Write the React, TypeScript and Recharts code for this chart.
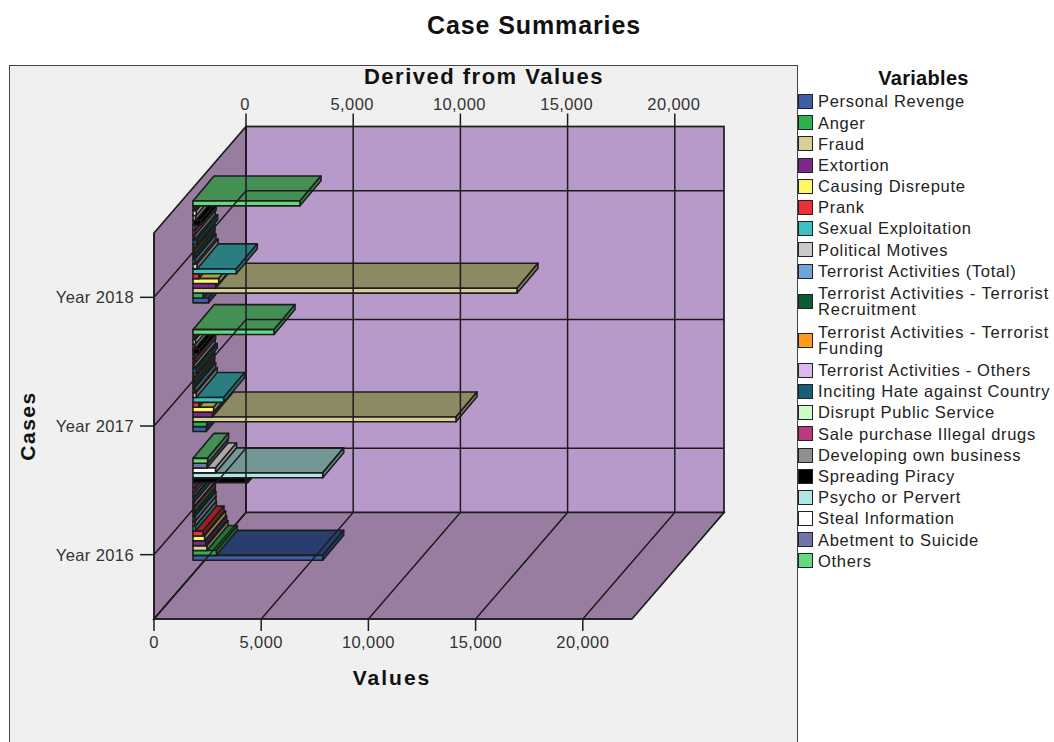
import React from "react";
import { BarChart, Bar, XAxis, YAxis, Legend, ReferenceArea, ReferenceLine } from "recharts";

const YEARS = ["Year 2018", "Year 2017", "Year 2016"];
const VALUE_TICKS = [0, 5000, 10000, 15000, 20000];
const VALUE_MAX = 22295;

const VARIABLES = [
  "Personal Revenge",
  "Anger",
  "Fraud",
  "Extortion",
  "Causing Disrepute",
  "Prank",
  "Sexual Exploitation",
  "Political Motives",
  "Terrorist Activities (Total)",
  "Terrorist Activities - Terrorist Recruitment",
  "Terrorist Activities - Terrorist Funding",
  "Terrorist Activities - Others",
  "Inciting Hate against Country",
  "Disrupt Public Service",
  "Sale purchase Illegal drugs",
  "Developing own business",
  "Spreading Piracy",
  "Psycho or Pervert",
  "Steal Information",
  "Abetment to Suicide",
  "Others",
];

const COLORS = [
  "#3e5ea8", "#2cb34f", "#d6cf96", "#7c2a8a", "#fdf86a", "#ee2f36", "#3fbfc4",
  "#c9c9c9", "#6fa5d8", "#0d5a33", "#ff9a1e", "#ddb8f0", "#175f76", "#ccfcc8",
  "#b83a80", "#8f8f8f", "#000000", "#aee5e5", "#ffffff", "#7074a8", "#66d97f",
];

// one list per variable: 2018, 2017, 2016
const PERSONAL_REVENGE = [730, 620, 6050];
const ANGER = [470, 640, 1090];
const FRAUD = [15112, 12267, 650];
const EXTORTION = [1060, 900, 590];
const CAUSING_DISREPUTE = [1200, 960, 540];
const PRANK = [280, 280, 465];
const SEXUAL_EXPLOITATION = [2020, 1430, 110];
const POLITICAL_MOTIVES = [190, 150, 90];
const TERRORIST_TOTAL = [90, 80, 90];
const TERRORIST_RECRUITMENT = [40, 30, 60];
const TERRORIST_FUNDING = [40, 30, 60];
const TERRORIST_OTHERS = [40, 30, 40];
const INCITING_HATE = [170, 150, 60];
const DISRUPT_SERVICE = [60, 50, 30];
const ILLEGAL_DRUGS = [100, 80, 100];
const OWN_BUSINESS = [100, 80, 100];
const SPREADING_PIRACY = [370, 300, 2560];
const PSYCHO = [120, 80, 6050];
const STEAL_INFORMATION = [150, 110, 1050];
const ABETMENT = [60, 80, 650];
const OTHERS = [4990, 3778, 680];

const SERIES = [
  PERSONAL_REVENGE, ANGER, FRAUD, EXTORTION, CAUSING_DISREPUTE, PRANK, SEXUAL_EXPLOITATION,
  POLITICAL_MOTIVES, TERRORIST_TOTAL, TERRORIST_RECRUITMENT, TERRORIST_FUNDING, TERRORIST_OTHERS,
  INCITING_HATE, DISRUPT_SERVICE, ILLEGAL_DRUGS, OWN_BUSINESS, SPREADING_PIRACY, PSYCHO,
  STEAL_INFORMATION, ABETMENT, OTHERS,
];

const rows = YEARS.map((year, r) => {
  const row: Record<string, any> = { year };
  VARIABLES.forEach((name, s) => (row[name] = SERIES[s][r]));
  return row;
});

const FONT = '"Liberation Sans", Arial, sans-serif';
const LINE = "#1c1c1c";
const WIDTH = 1054;
const HEIGHT = 742;

// oblique offsets of the fake 3D box: back wall, bar plane, bar thickness
const BACK = { x: 92, y: -106.5 };
const PLANE = { x: 39, y: -45 };
const THICK = { x: 21, y: -25 };
const BAR_SIZE = 4.85;

const shade = (hex: string, k: number) => {
  const n = parseInt(hex.slice(1), 16);
  const c = [(n >> 16) & 255, (n >> 8) & 255, n & 255].map((v) => Math.round(v * k));
  return `rgb(${c.join(",")})`;
};

const pts = (list: number[][]) => list.map((p) => p.join(",")).join(" ");

// Box for one bar. Recharts stacks a group top-down in declaration order, but the
// lowest bar has to be painted first, so each group gets mirrored here.
const boxShape = (index: number) => (props: any) => {
  const { x, y, width, height } = props;
  const l = x + PLANE.x;
  const t = y + (SERIES.length - 1 - 2 * index) * height + PLANE.y;
  const r = l + width;
  const b = t + height;
  const fill = COLORS[index];
  return (
    <g stroke={LINE} strokeWidth={1.6} strokeLinejoin="round">
      <polygon
        fill={shade(fill, 0.66)}
        points={pts([[l, t], [l + THICK.x, t + THICK.y], [r + THICK.x, t + THICK.y], [r, t]])}
      />
      <polygon
        fill={shade(fill, 0.6)}
        points={pts([[r, t], [r + THICK.x, t + THICK.y], [r + THICK.x, b + THICK.y], [r, b]])}
      />
      <rect x={l} y={t} width={width} height={height} fill={fill} />
    </g>
  );
};

const WallsShape = ({ x, y, width, height }: any) => {
  const wall = "#987da1";
  const r = x + width;
  const b = y + height;
  return (
    <g stroke={LINE} strokeWidth={1.7}>
      <rect x={x + BACK.x} y={y + BACK.y} width={width} height={height} fill="#b89aca" />
      <polygon fill={wall} points={pts([[x, y], [x + BACK.x, y + BACK.y], [x + BACK.x, b + BACK.y], [x, b]])} />
      <polygon fill={wall} points={pts([[x, b], [r, b], [r + BACK.x, b + BACK.y], [x + BACK.x, b + BACK.y]])} />
    </g>
  );
};

const formatValue = (v: number) => v.toLocaleString("en-US");

const TICK_TEXT = { fontSize: 16.5, letterSpacing: 0.4, fontFamily: FONT, fill: "#333" };

// value gridline: across the floor, up the back wall, and its tick and label on top of the wall
const valueGrid = (value: number) => ({ x1, y1, y2 }: any) => {
  const top = Math.min(y1, y2) + BACK.y;
  const bottom = Math.max(y1, y2);
  const bx = x1 + BACK.x;
  return (
    <g>
      <polyline fill="none" stroke={LINE} strokeWidth={1.5} points={pts([[x1, bottom], [bx, bottom + BACK.y], [bx, top]])} />
      <line x1={bx} x2={bx} y1={top} y2={top - 13} stroke={LINE} strokeWidth={1.5} />
      <text x={bx - 1} y={top - 17} textAnchor="middle" {...TICK_TEXT}>
        {formatValue(value)}
      </text>
    </g>
  );
};

// category gridline: across the side wall, then along the back wall
const CaseGrid = ({ x1, x2, y1 }: any) => {
  const left = Math.min(x1, x2);
  const right = Math.max(x1, x2);
  return (
    <polyline
      fill="none"
      stroke={LINE}
      strokeWidth={1.5}
      points={pts([[left, y1], [left + BACK.x, y1 + BACK.y], [right + BACK.x, y1 + BACK.y]])}
    />
  );
};

const VariableLegend = ({ payload }: any) => (
  <div style={{ fontFamily: FONT, color: "#222" }}>
    <div style={{ height: 24, lineHeight: "22px", textAlign: "center", fontWeight: 700, fontSize: 20, letterSpacing: 0.3, color: "#111", paddingRight: 4 }}>
      Variables
    </div>
    {(payload || []).map((item: any) => {
      const wraps = item.value.length > 30;
      return (
        <div key={item.value} style={{ display: "flex", alignItems: "center", minHeight: 21.2 }}>
          <span
            style={{
              width: 13,
              height: 13,
              marginLeft: 1,
              marginRight: 5,
              flexShrink: 0,
              border: "1.5px solid #222",
              background: item.color,
            }}
          />
          <span
            style={{
              fontSize: 16.5,
              letterSpacing: wraps ? 0.9 : 0.7,
              lineHeight: "16.5px",
              padding: wraps ? "3px 0" : 0,
              whiteSpace: wraps ? "normal" : "nowrap",
            }}
          >
            {item.value}
          </span>
        </div>
      );
    })}
  </div>
);

export default function App() {
  const tickLine = { stroke: LINE, strokeWidth: 1.5 };
  const titleStyle = { fontWeight: 700, fontFamily: FONT, fill: "#111" };
  return (
    <div style={{ position: "absolute", left: 0, top: 0, width: WIDTH, height: HEIGHT, overflow: "hidden", background: "#fff" }}>
      <div
        style={{
          position: "absolute",
          left: 9,
          top: 65,
          width: 787,
          height: 700,
          background: "#f0f0f0",
          border: "1.5px solid #444",
        }}
      />
      <BarChart
        width={WIDTH}
        height={HEIGHT}
        data={rows}
        layout="vertical"
        barSize={BAR_SIZE}
        barGap={0}
        margin={{ top: 233, right: 422, bottom: 83, left: 74 }}
        style={{ position: "absolute", left: 0, top: 0 }}
      >
        <ReferenceArea x1={0} x2={VALUE_MAX} ifOverflow="visible" shape={WallsShape} />
        {VALUE_TICKS.map((t) => (
          <ReferenceLine key={t} x={t} ifOverflow="visible" shape={valueGrid(t)} />
        ))}
        {YEARS.map((y) => (
          <ReferenceLine key={y} y={y} ifOverflow="visible" shape={CaseGrid} />
        ))}
        <XAxis
          type="number"
          domain={[0, VALUE_MAX]}
          ticks={VALUE_TICKS}
          interval={0}
          height={40}
          tickSize={12}
          tickMargin={5}
          tick={TICK_TEXT}
          tickLine={tickLine}
          axisLine={tickLine}
          tickFormatter={formatValue}
        />
        <YAxis
          type="category"
          dataKey="year"
          width={80}
          tickSize={14}
          tickMargin={6}
          tick={TICK_TEXT}
          tickLine={tickLine}
          axisLine={tickLine}
        />
        {VARIABLES.map((name, i) => (
          <Bar key={name} dataKey={name} fill={COLORS[i]} isAnimationActive={false} shape={boxShape(i)} />
        ))}
        <Legend
          layout="vertical"
          align="center"
          verticalAlign="middle"
          itemSorter={null}
          wrapperStyle={{ left: 797, top: 67, width: 257 }}
          content={<VariableLegend />}
        />
        <text x={534} y={34} textAnchor="middle" fontSize={25} letterSpacing={0.9} {...titleStyle}>
          Case Summaries
        </text>
        <text x={484} y={84} textAnchor="middle" fontSize={22} letterSpacing={1.5} {...titleStyle}>
          Derived from Values
        </text>
        <text x={392} y={685} textAnchor="middle" fontSize={21} letterSpacing={2} {...titleStyle}>
          Values
        </text>
        <text x={35} y={426} textAnchor="middle" fontSize={21} letterSpacing={1.5} transform="rotate(-90 35 426)" {...titleStyle}>
          Cases
        </text>
      </BarChart>
    </div>
  );
}
